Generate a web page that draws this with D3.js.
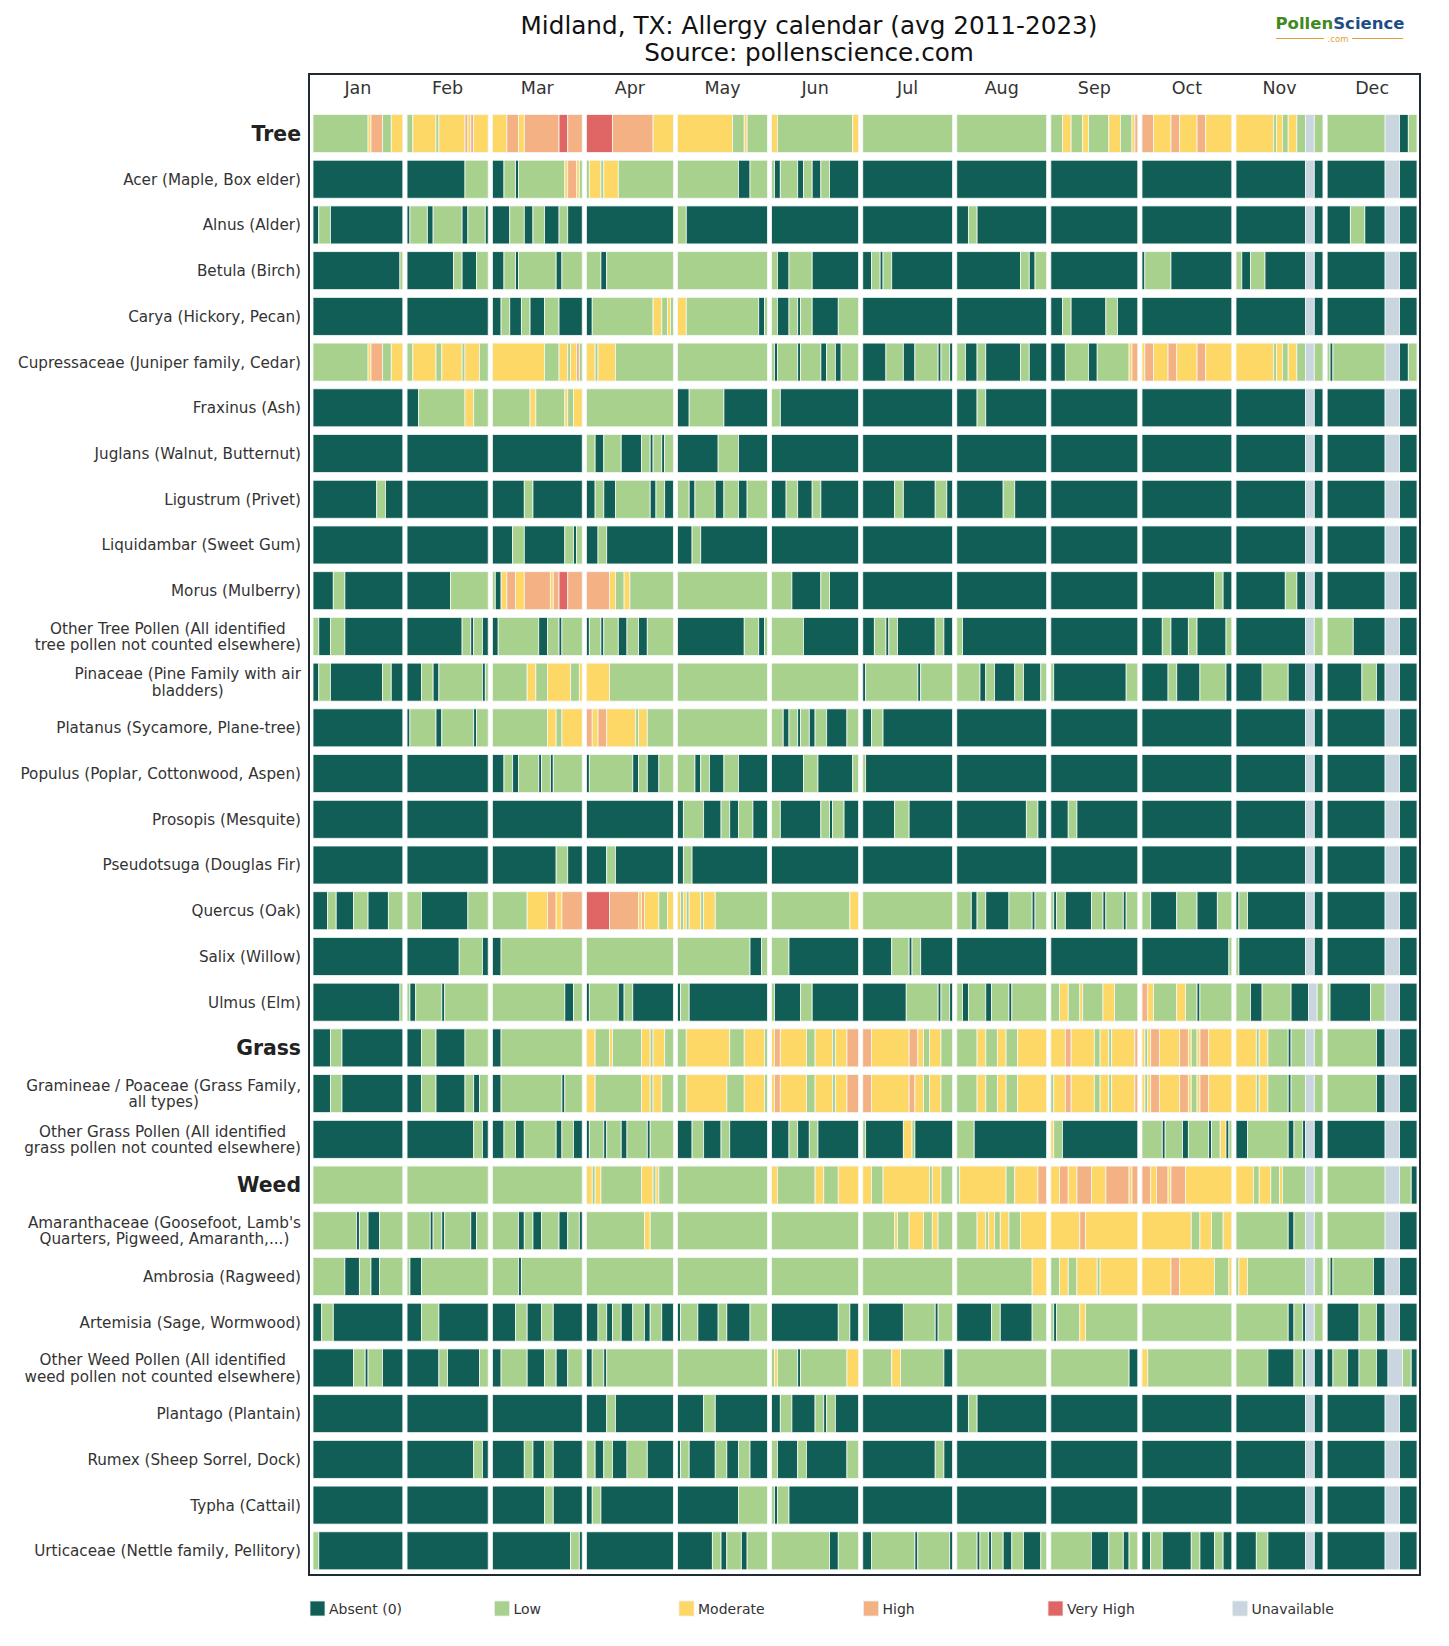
<!DOCTYPE html>
<html>
<head>
<meta charset="utf-8">
<script src="https://cdn.jsdelivr.net/npm/d3@7"></script>
<style>
  body { margin: 0; background: #fff; }
  text { font-family: "DejaVu Sans", sans-serif; }
</style>
</head>
<body>
<div id="chart"></div>
<script>
const months = ["Jan", "Feb", "Mar", "Apr", "May", "Jun", "Jul", "Aug", "Sep", "Oct", "Nov", "Dec"];
const monthDays = [31, 28, 31, 30, 31, 30, 31, 31, 30, 31, 30, 31];

const levels = ["Absent (0)", "Low", "Moderate", "High", "Very High", "Unavailable"];
const levelCodes = "ALMHVU";
const levelColors = ["#115e57", "#a9d18e", "#fed866", "#f4b183", "#e06666", "#c9d6df"];

// one string per row, months split by "|", runs as <level><days>
const treeLabels = [
  "Tree",
  "Acer (Maple, Box elder)",
  "Alnus (Alder)",
  "Betula (Birch)",
  "Carya (Hickory, Pecan)",
  "Cupressaceae (Juniper family, Cedar)",
  "Fraxinus (Ash)",
  "Juglans (Walnut, Butternut)",
  "Ligustrum (Privet)",
  "Liquidambar (Sweet Gum)",
  "Morus (Mulberry)",
  "Other Tree Pollen (All identified\ntree pollen not counted elsewhere)",
  "Pinaceae (Pine Family with air\nbladders)",
  "Platanus (Sycamore, Plane-tree)",
  "Populus (Poplar, Cottonwood, Aspen)",
  "Prosopis (Mesquite)",
  "Pseudotsuga (Douglas Fir)",
  "Quercus (Oak)",
  "Salix (Willow)",
  "Ulmus (Elm)"
];
const treeRuns = [
  "L19 M1 H4 L3 M4|L2 M8 L1 M9 H1 M1 H1 M5|M5 H4 M2 H12 V3 H5|V9 H14 M7|M19 L4 M1 L7|M2 L26 M2|L31|L31|L4 M3 L4 M2 L7 M4 L4 M1 H1|H4 M6 H3 M6 H3 M9|M13 L1 M2 L2 M3 L3 U3 L3|L20 U5 A3 L3",
  "A31|A20 L8|A4 L4 A1 L16 M1 H3 M1 L1|L1 M4 L1 M5 L19|L21 A4 L6|L1 A2 L6 A2 L3 A3 L3 A10|A31|A31|A30|A31|A24 U3 A3|A20 U5 A6",
  "A2 L4 A25|A1 L6 A2 L10 A2 L6 A1|A6 L5 A3 L4 A5 L3 A5|A30|L3 A28|A30|A31|A4 L3 A24|A30|A31|A24 U3 A3|A8 L5 A7 U5 A6",
  "A30 L1|A16 L3 A5 L4|A4 L4 A1 L13 A2 L7|L5 A2 L23|L31|L2 A4 L8 A16|A3 L3 A1 L3 A21|A22 L3 A2 L4|A30|A1 L9 A21|L2 A3 L5 A14 U3 A3|A20 U5 A6",
  "A31|A28|A3 L3 A4 L3 A5 L5 A8|A2 L21 M3 L2 M1 L1|M3 L25 A2 L1|L2 A4 L3 A1 L4 A9 L7|A31|A31|A4 L3 A12 L4 A7|A31|A24 U3 A3|A20 U5 A6",
  "L19 M1 H4 L3 M4|L2 M8 L2 M7 L1 M5 L3|M18 L5 M3 L1 M2 H1 L1|M3 L1 M6 L20|L31|L1 A1 L7 A1 L7 A2 L3 A2 L6|A8 L6 A4 L8 A1 L3 A1|L3 A4 L3 A12 L3 A6|A5 L8 A3 L11 M1 H2|M1 H3 M5 H3 M7 H3 M9|M13 L1 M2 L2 M3 L3 U3 L3|L1 A1 L18 U5 A3 L3",
  "A31|A4 L16 M3 L5|L13 M2 L10 M1 L2 M3|L30|A4 L12 A15|L3 A27|A31|A7 L3 A21|A30|A31|A24 U3 A3|A20 U5 A6",
  "A31|A28|A31|L3 A3 L6 A7 L3 A1 L3 A1 L3|A14 L7 A10|A30|A31|A31|A30|A31|A24 U3 A3|A20 U5 A6",
  "A22 L3 A6|A28|A11 L3 A17|A3 L3 A4 L12 A2 L3 A3|L4 A2 L7 A3 L5 A3 L7|A5 L4 A5 L3 A13|A11 L3 A11 L4 A2|A16 L4 A11|A30|A31|A24 U3 A3|A20 U5 A6",
  "A31|A28|A7 L4 A14 L3 A1 L2|A4 L3 A23|A5 L3 A23|A30|A31|A31|A30|A31|A24 U3 A3|A20 U5 A6",
  "A7 L4 A20|A15 L13|L1 A2 M2 H3 M3 H9 M1 H2 V3 H5|H8 M2 L3 M2 L15|L31|L7 A10 L3 A10|A31|A31|A30|A25 L3 A3|A17 L4 A3 U3 A3|A20 U5 A6",
  "L2 A4 L5 A20|A19 L3 A1 L3 A2|A2 L14 A3 L4 A1 L7|A1 L4 A1 L5 A3 L4 A3 L9|A23 L5 A2 L1|L11 A19|A4 L4 A1 L3 A13 L3 A3|L2 A29|A30|A7 L3 A6 L3 A10 L2|A24 U3 L3|L9 A11 U5 A6",
  "A2 L4 A18 L3 A4|A5 L4 A2 L15 A1 L1|L12 M3 L4 M8 L3 M1|M8 L22|L31|L30|A1 L18 A1 L11|L8 A2 L3 A7 L3 A6 L2|L1 A25 L4|A9 L3 A8 L9 A2|A9 L9 A6 U3 A3|A12 L5 A3 U5 A6",
  "A31|A1 L9 A2 L11 A1 L4|L19 M3 L2 M7|H2 M2 H3 M10 L1 M3 L9|L31|L4 A2 L3 A1 L3 A2 L4 A7 L4|A3 L4 A24|A31|A30|A31|A24 U3 A3|A20 U5 A6",
  "A31|A28|A4 L3 A2 L7 A1 L3 A1 L10|A1 L15 A2 L3 A4 L5|L6 A2 L3 A5 L5 A10|A11 L5 A12 L2|L1 A30|A31|A30|A31|A24 U3 A3|A20 U5 A6",
  "A31|A28|A31|A30|A2 L7 A6 L3 A3 L5 A5|L3 A14 L3 A1 L4 A5|A11 L5 A15|A24 L4 A3|A6 L3 A21|A31|A24 U3 A3|A20 U5 A6",
  "A31|A28|A22 L4 A5|A7 L3 A20|A2 L3 A26|A30|A31|A31|A30|A31|A24 U3 A3|A20 U5 A6",
  "A5 L3 A6 L5 A7 L5|L5 A16 L7|L12 M7 H3 M2 H7|V8 H10 M1 H1 M5 L3 M2|M1 L1 M1 L1 M4 L1 M4 L18|L27 M3|L31|L5 A2 L3 A8 L8 A1 L4|L1 A1 L3 A9 L4 A1 L6 A1 L4|L3 A9 L7 A7 L5|A1 L3 A20 U3 A3|A20 U5 A6",
  "A31|A18 L8 A2|A3 L28|L30|L25 A4 L2|L6 A24|A10 L6 A1 L3 A11|A31|A30|A30 L1|L1 A23 U3 A3|A20 U5 A6",
  "A30 L1|L1 A2 L9 A1 L15|L25 A3 L3|A1 L10 A2 L3 A14|A1 L3 A27|L1 A9 L4 A16|A15 L11 A1 L3 A1|L2 A2 L6 A2 L6 A1 L12|L3 M3 L4 M1 L7 M4 L8|H2 M2 L8 M3 L4 A1 L11|L5 A4 L10 A6 U3 L2|L1 A14 L5 U5 A6"
];

const grassLabels = [
  "Grass",
  "Gramineae / Poaceae (Grass Family,\nall types)",
  "Other Grass Pollen (All identified\ngrass pollen not counted elsewhere)"
];
const grassRuns = [
  "A6 L4 A21|A5 L5 A10 L8|A3 L28|M3 L5 M1 L10 M3 L1 M4 L3|L3 M15 L5 M7 L1|M1 H2 M9 L3 M6 L1 M4 H4|H3 M13 H3 M2 L2 M4 L4|L7 M3 L4 M3 L4 M10|M5 H2 M8 L2 M3 L1 M8 H1|M1 L1 M1 H3 M7 H3 M1 L2 M1 H3 M8|M7 L1 M3 L7 A1 L5 U3 L3|L17 A3 U5 A6",
  "A6 L4 A21|A5 L5 A10 L3 A2 L3|A3 L21 A1 L6|M3 L16 M3 L1 M3 L4|L3 M14 L6 M7 L1|M1 H2 M9 L3 M6 L1 M4 H4|H3 M13 H2 M3 L2 M4 L4|L7 M3 L4 M3 L4 M10|L1 M4 H2 M8 L2 M3 L1 M8 H1|M1 L1 M1 H3 M7 H3 M1 L2 M1 H3 M8|M7 L1 M3 L7 A1 L5 U3 L3|L17 A3 U5 A6",
  "A31|A23 L3 A2|A4 L4 A3 L11 A2 L4 A3|A1 L5 A1 L5 A2 L7 A1 L8|A5 L4 A6 L3 A13|A6 L3 A4 L3 A14|L1 A13 M3 L1 A13|L6 A25|M1 L3 A26|L7 A1 L6 A2 L7 A1 L3 M2 A1 L1|A4 L14 A2 L3 A1 U3 A3|A20 U5 A6"
];

const weedLabels = [
  "Weed",
  "Amaranthaceae (Goosefoot, Lamb's\nQuarters, Pigweed, Amaranth,...)",
  "Ambrosia (Ragweed)",
  "Artemisia (Sage, Wormwood)",
  "Other Weed Pollen (All identified\nweed pollen not counted elsewhere)",
  "Plantago (Plantain)",
  "Rumex (Sheep Sorrel, Dock)",
  "Typha (Cattail)",
  "Urticaceae (Nettle family, Pellitory)"
];
const weedRuns = [
  "L31|L28|L31|M2 L1 M2 L14 M4 L1 M1 L5|L31|M2 L13 M3 L5 M7|M3 L4 M16 L1 M3 L4|L1 M16 L3 M8 H3|M3 H3 M3 H5 M5 H8 M1 H2|H3 M2 H4 M1 H5 M16|M6 L2 M4 L3 M1 L8 U3 L3|L20 U5 L4 A2",
  "L15 A1 L3 A4 L8|L8 A1 L3 A1 L9 A2 L4|L9 A2 L3 A3 L6 A3 L4 A1|L20 M2 L8|L31|L30|L11 M1 L4 M5 L3 M2 L5|L7 M3 L1 M2 L2 M3 L4 M9|M10 H2 M18|M17 L3 M4 L4 M3|L18 A2 L4 U3 L3|L20 U5 A6",
  "L11 A5 L4 A3 L8|L1 A4 L23|L9 A1 L21|L30|L31|L30|L31|L26 M5|L3 M3 L3 M7 L1 M13|M10 H3 M12 L5 M1|L1 M3 L20 U3 L3|L1 A1 L14 A4 U5 A6",
  "A3 L4 A24|A5 L6 A17|A8 L4 A5 L4 A10|A4 L3 A2 L3 A4 L4 A2 L4 A4|A1 L6 A7 L3 A8 L6|A23 L4 A3|L2 A12 L11 A1 L5|A12 L3 A11 L5|L1 A1 L8 M2 L18|L31|L18 A2 L3 A1 U3 L3|A11 L6 A3 U5 A6",
  "A14 L4 A1 L5 A7|A11 L3 A11 L3|A3 L9 A6 L4 A4 L5|A2 L4 A1 L23|L31|L1 M1 L7 A1 L16 M4|L10 M3 L15 A3|L31|L27 A3|M2 L29|L11 A9 L3 A1 U3 A3|A2 L5 A4 L6 A4 U5 L3 A2",
  "A31|A28|A31|A7 L3 A20|A9 L4 A18|A3 L4 A8 L3 A1 L3 A8|A31|A4 L3 A24|A30|A31|A24 U3 A3|A20 U5 A6",
  "A31|A23 L3 A2|A11 L3 A4 L3 A10|L3 A3 L3 A5 L7 A9|A1 L3 A9 L4 A4 L4 A6|L2 A7 L3 A14 L4|A25 L3 A3|A31|A30|A31|A24 U3 A3|A20 U5 A6",
  "A31|A28|A18 L3 A10|A2 L3 A25|A21 L10|L1 A1 L4 A24|A31|A31|A30|A31|A24 U3 A3|A20 U5 A6",
  "L2 A29|A28|A27 L3 A1|A30|A12 L3 A2 L5 A2 L7|L20 A3 L7|A3 L15 A1 L11 A1|L7 A1 L3 A1 L4 A3 L4 A6 L2|L14 A6 L5 A2 L3|A3 L4 A10 L3 A5 L3 A3|A7 L4 A13 U3 A3|A20 U5 A6"
];

const groupNames = ["Tree", "Grass", "Weed"];

function parseRow(str) {
  const runs = [];
  str.split("|").forEach((chunk, m) => {
    let d = 0;
    chunk.trim().split(/\s+/).forEach(tok => {
      const lv = levelCodes.indexOf(tok[0]);
      const n = Math.min(+tok.slice(1), monthDays[m] - d);
      if (n > 0) runs.push({ month: m, start: d, len: n, level: lv });
      d += n;
    });
    if (d < monthDays[m]) {
      const last = runs[runs.length - 1];
      if (last && last.month === m) last.len += monthDays[m] - d;
    }
  });
  return runs;
}

const rows = []
  .concat(treeLabels.map((l, i) => ({ label: l, runs: parseRow(treeRuns[i]) })))
  .concat(grassLabels.map((l, i) => ({ label: l, runs: parseRow(grassRuns[i]) })))
  .concat(weedLabels.map((l, i) => ({ label: l, runs: parseRow(weedRuns[i]) })));

const W = 1449, H = 1646;
const svg = d3.select("#chart").append("svg")
  .attr("width", W).attr("height", H)
  .attr("viewBox", [0, 0, W, H]);

const monthStart = [0, ...Array.from(d3.cumsum(monthDays))].slice(0, 12);
const gapDays = 1.45;
const x = d3.scaleLinear().domain([0, 365 + 11 * gapDays]).range([313, 1417]);
const dayX = (m, d) => x(monthStart[m] + d + m * gapDays);

const y = d3.scaleBand().domain(d3.range(rows.length))
  .range([114.5, 1569.8]).paddingInner(0.169).paddingOuter(0);

// title
svg.append("text").attr("x", 809).attr("y", 34).attr("text-anchor", "middle")
  .attr("font-size", 24.7).attr("fill", "#111")
  .text("Midland, TX: Allergy calendar (avg 2011-2023)");
svg.append("text").attr("x", 809).attr("y", 61).attr("text-anchor", "middle")
  .attr("font-size", 24.7).attr("fill", "#111")
  .text("Source: pollenscience.com");

// logo
const logo = svg.append("g");
const lt = logo.append("text").attr("x", 1340).attr("y", 29).attr("text-anchor", "middle")
  .attr("font-size", 16.5).attr("font-weight", "bold");
lt.append("tspan").attr("fill", "#3f8a1e").text("Pollen");
lt.append("tspan").attr("fill", "#1d4d86").text("Science");
logo.append("text").attr("x", 1338).attr("y", 42).attr("text-anchor", "middle")
  .attr("font-size", 8.5).attr("fill", "#e3a03a").text(".com");
logo.append("line").attr("x1", 1276).attr("x2", 1324).attr("y1", 38.5).attr("y2", 38.5)
  .attr("stroke", "#e3a03a").attr("stroke-width", 1);
logo.append("line").attr("x1", 1352).attr("x2", 1403).attr("y1", 38.5).attr("y2", 38.5)
  .attr("stroke", "#e3a03a").attr("stroke-width", 1);

// month labels
svg.append("g").selectAll("text").data(months).join("text")
  .attr("x", (d, i) => (dayX(i, 0) + dayX(i, monthDays[i])) / 2)
  .attr("y", 93.5)
  .attr("text-anchor", "middle")
  .attr("font-size", 17.5)
  .attr("fill", "#333")
  .text(d => d);

// bars
const rowG = svg.append("g").selectAll("g").data(rows).join("g")
  .attr("transform", (d, i) => `translate(0,${y(i)})`);
rowG.selectAll("rect").data(d => d.runs).join("rect")
  .attr("x", r => dayX(r.month, r.start))
  .attr("width", r => dayX(r.month, r.start + r.len) - dayX(r.month, r.start))
  .attr("y", 0)
  .attr("height", y.bandwidth())
  .attr("fill", r => levelColors[r.level])
  .attr("stroke", "#f4f8f6")
  .attr("stroke-width", 0.8);

// row labels
const labelRight = 301;
rows.forEach((r, i) => {
  const isGroup = groupNames.includes(r.label);
  const lines = r.label.split("\n");
  const cy = y(i) + y.bandwidth() / 2;
  const lh = 16.5;
  const texts = lines.map((ln, k) => svg.append("text")
    .attr("y", cy + (k - (lines.length - 1) / 2) * lh)
    .attr("dy", "0.36em")
    .attr("font-size", isGroup ? 20.4 : 15.2)
    .attr("font-weight", isGroup ? "bold" : "normal")
    .attr("fill", isGroup ? "#222" : "#333")
    .text(ln));
  const maxW = d3.max(texts, t => t.node().getComputedTextLength());
  texts.forEach(t => t.attr("text-anchor", "middle").attr("x", labelRight - maxW / 2));
});

// frame
svg.append("rect").attr("x", 309).attr("y", 74).attr("width", 1111).attr("height", 1501)
  .attr("fill", "none").attr("stroke", "#1f2a33").attr("stroke-width", 2);

// legend
const leg = svg.append("g").selectAll("g").data(levels).join("g")
  .attr("transform", (d, i) => `translate(${310 + i * 184.5},1601)`);
leg.append("rect").attr("width", 15).attr("height", 15)
  .attr("fill", (d, i) => levelColors[i])
  .attr("stroke", "#e8efec").attr("stroke-width", 0.8);
leg.append("text").attr("x", 19).attr("y", 12.5)
  .attr("font-size", 14).attr("fill", "#333")
  .text(d => d);
</script>
</body>
</html>
